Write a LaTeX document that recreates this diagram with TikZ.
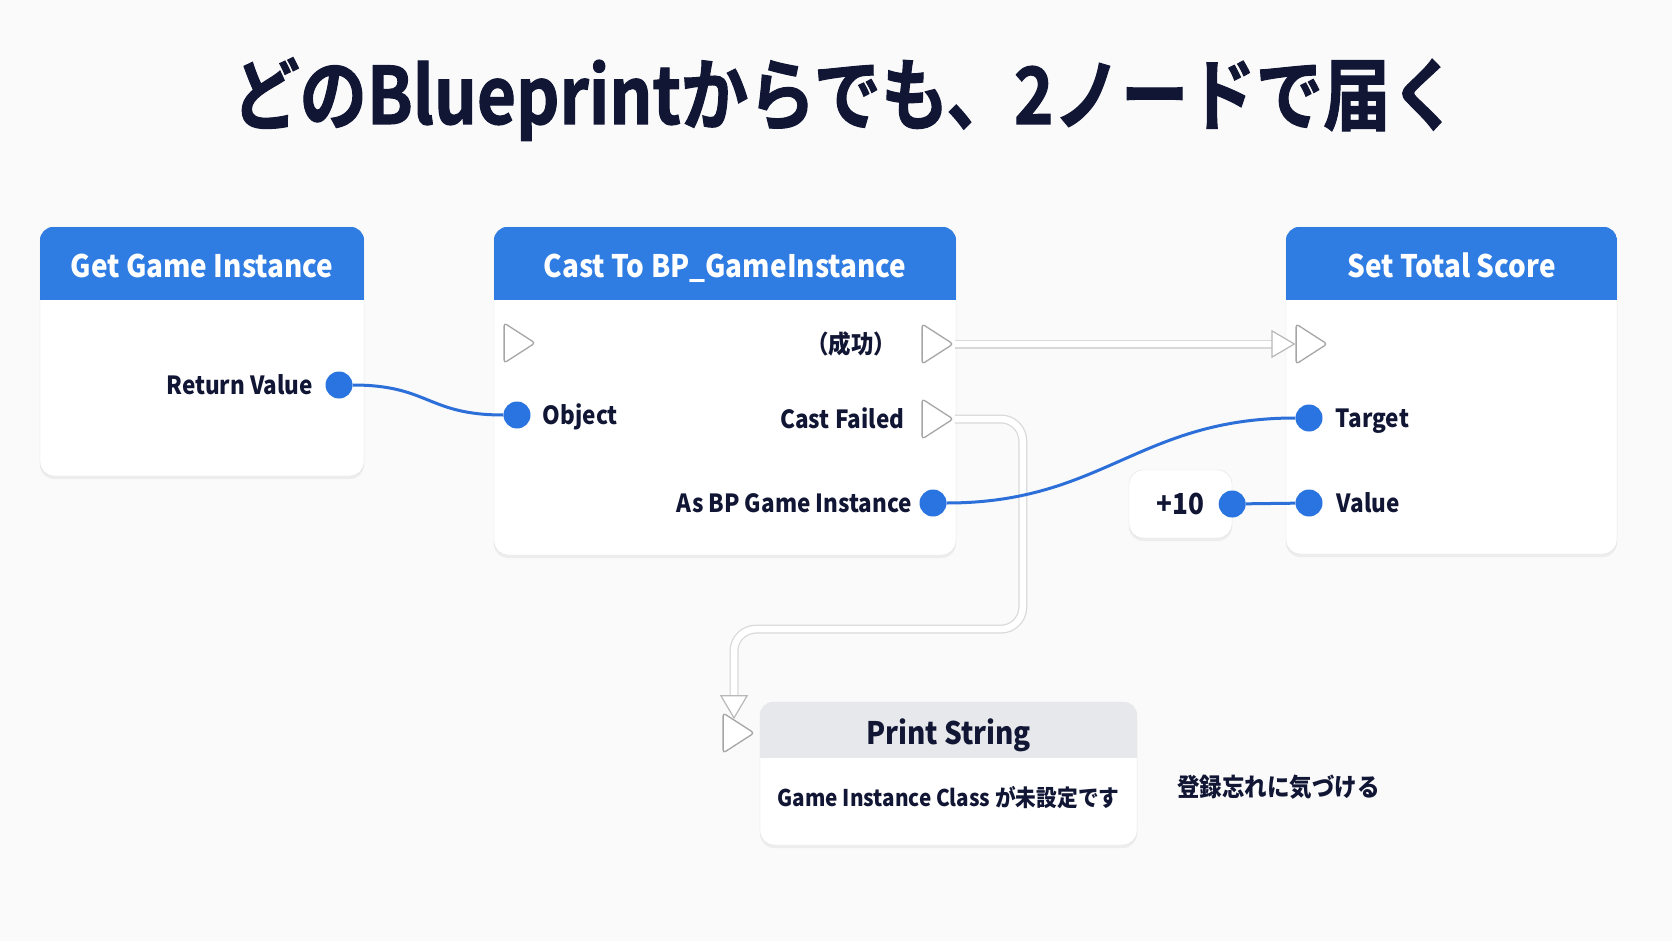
\documentclass[tikz,border=0pt]{standalone}
\usepackage{fontspec}
\setmainfont{Noto Sans CJK JP}[FakeStretch=0.9]
\newfontfamily\titlefont{Noto Sans CJK JP Bold}[FakeStretch=0.853, FakeBold=1.3]
\usetikzlibrary{positioning,arrows.meta,shapes.geometric,shadows}

\definecolor{ink}{HTML}{111634}
\definecolor{headblue}{HTML}{2F7CE3}
\definecolor{pinblue}{HTML}{2A74E2}
\definecolor{wireblue}{HTML}{2C6FD8}
\definecolor{headgray}{HTML}{E7E8EB}
\definecolor{bgcol}{HTML}{FAFAFB}

\begin{document}
\begin{tikzpicture}[
    x=1pt, y=-1pt,
    >=Stealth,
    node distance=12pt,
    every node/.style={font=\bfseries, text=ink},
    bpbox/.style={draw=black!12, fill=white, rounded corners=14pt, inner sep=0pt,
                  drop shadow={opacity=0.10, shadow xshift=0pt, shadow yshift=-3pt}},
    headtxt/.style={font=\bfseries\fontsize{31}{36}\selectfont, inner sep=0pt,
                  text height=23pt, text depth=0pt},
    lbl/.style={font=\bfseries\fontsize{25}{30}\selectfont, inner sep=0pt,
                  text height=18pt, text depth=0pt},
    bodytxt/.style={font=\bfseries\fontsize{23}{28}\selectfont, inner sep=0pt,
                  text height=17pt, text depth=0pt},
    datapin/.style={circle, fill=pinblue, minimum size=27pt, inner sep=0pt},
    execpin/.style={isosceles triangle, isosceles triangle stretches, draw=black!35,
                  fill=white, line width=1.3pt, minimum width=40pt, minimum height=31pt,
                  inner sep=0pt, rounded corners=3pt},
    datawire/.style={draw=wireblue, line width=3pt},
    execwire/.style={white, line width=6.5pt, rounded corners=22pt,
                  -{Triangle[length=24pt,width=28pt,fill=white,color=black!28,line width=1.2pt]},
                  preaction={draw=black!15, line width=9pt, -, shorten >=20pt}},
]
\fill[bgcol] (0,0) rectangle (1672,941);

\node[font=\titlefont\fontsize{79}{90}\selectfont, text height=58pt, text depth=0pt]
      (title) at (845,95) {どのBlueprintからでも、2ノードで届く};

% blueprint nodes
\node[bpbox, minimum width=324pt, minimum height=249pt] (getgi)    at (202,351.5)   {};
\node[bpbox, minimum width=462pt, minimum height=328pt] (cast)     at (725,391)     {};
\node[bpbox, minimum width=331pt, minimum height=327pt] (settotal) at (1451.5,390.5) {};
\node[bpbox, minimum width=377pt, minimum height=143pt] (print)    at (948.5,773.5) {};

\foreach \b/\c/\tc/\h/\t in {getgi/headblue/white/73/Get Game Instance,
    cast/headblue/white/73/Cast To BP\_GameInstance,
    settotal/headblue/white/73/Set Total Score,
    print/headgray/ink/56/Print String}{
  \begin{scope}
    \clip[rounded corners=14pt] (\b.south west) rectangle (\b.north east);
    \fill[\c] (\b.north west) rectangle ([yshift=-\h pt]\b.north east);
  \end{scope}
  \node[headtxt, text=\tc] (\b-title) at ([yshift=-\h pt/2-3pt]\b.north) {\t};
}

% pins
\node[execpin] (castin)   at (515,343)  {};
\node[execpin] (castok)   at (933,344)  {};
\node[execpin] (castfail) at (933,419)  {};
\node[execpin] (setin)    at (1307,344) {};
\node[execpin] (printin)  at (734,733)  {};

\node[datapin] (retpin)    at (339,385)  {};
\node[datapin] (objpin)    at (517,415)  {};
\node[datapin] (asbppin)   at (933,503)  {};
\node[datapin] (targetpin) at (1309,418) {};
\node[datapin] (valuepin)  at (1309,503) {};

\node[bpbox, minimum width=103pt, minimum height=68pt,
      font=\bfseries\fontsize{29}{34}\selectfont] (plusten) at (1180.5,504) {+10};
\node[datapin] (tenpin) at (plusten.east) {};

% pin labels
\node[lbl, left=12pt of retpin]     (retlbl)    {Return Value};
\node[lbl, right=12pt of objpin]    (objlbl)    {Object};
\node[lbl, left=25pt of castok]     (oklbl)     {（成功）};
\node[lbl, left=17pt of castfail]   (faillbl)   {Cast Failed};
\node[lbl, left=7pt of asbppin]     (asbplbl)   {As BP Game Instance};
\node[lbl, right=13pt of targetpin] (targetlbl) {Target};
\node[lbl, right=14pt of valuepin]  (valuelbl)  {Value};

\node[bodytxt] (printmsg) at ([yshift=47pt]print.south) {Game Instance Class が未設定です};
\node[bodytxt, font=\bfseries\fontsize{25}{30}\selectfont, right=40pt of print, yshift=-14pt]
      (note) {登録忘れに気づける};

% exec wires
\draw[execwire] (castok) -- (setin);
\draw[execwire] (castfail.east) -- ([xshift=68pt]castfail.east)
      |- ([yshift=90pt]printin.north) -- (printin.north);

% data wires
\draw[datawire] (retpin) .. controls +(90,0) and +(-90,0) .. (objpin);
\draw[datawire] (asbppin) .. controls +(170,0) and +(-170,0) .. (targetpin);
\draw[datawire] (tenpin) -- (valuepin);

\end{tikzpicture}
\end{document}
